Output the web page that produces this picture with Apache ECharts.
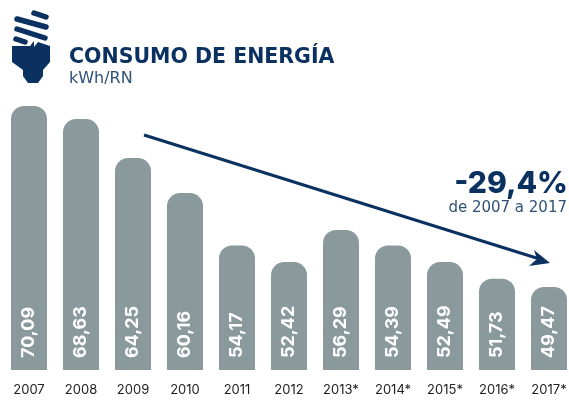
<!DOCTYPE html>
<html>
<head>
<meta charset="utf-8">
<style>
html, body { margin: 0; padding: 0; background: #fff; overflow: hidden; }
/* a bit wider than the window, last bar step needs the room */
#main { width: 575px; height: 400px; }
</style>
<script src="https://cdn.jsdelivr.net/npm/echarts@6/dist/echarts.min.js"></script>
</head>
<body>
<div id="main"></div>
<script>
var years = ['2007', '2008', '2009', '2010', '2011', '2012', '2013*', '2014*', '2015*', '2016*', '2017*'];
// printed on the bars
var consumo = [70.09, 68.63, 64.25, 60.16, 54.17, 52.42, 56.29, 54.39, 52.49, 51.73, 49.47];
// bar heights as drawn in the picture, they don't follow the printed numbers exactly (see 2016)
var alturas = [70.09, 68.6, 64.15, 60.16, 54.2, 52.3, 55.95, 54.2, 52.3, 50.4, 49.47];

var navy = '#0b3160';
var blue = '#2f5177';
var font = 'Inter, "Open Sans", sans-serif';
var wide = '"DejaVu Sans", sans-serif';

var myChart = echarts.init(document.getElementById('main'));

function coil(x1, y1, x2, y2) {
    return {
        type: 'line',
        shape: { x1: x1, y1: y1, x2: x2, y2: y2 },
        style: { stroke: navy, lineWidth: 5.5, lineCap: 'round' }
    };
}

var option = {
    animation: false,
    grid: { left: 3, right: 0, top: 106, bottom: 30 },
    xAxis: {
        type: 'category',
        data: years,
        axisLine: { show: false },
        axisTick: { show: false },
        axisLabel: { color: '#222', fontSize: 13, fontFamily: font, margin: 14, interval: 0 }
    },
    yAxis: {
        type: 'value',
        min: 40,
        max: 70.09,
        show: false
    },
    series: [
        {
            type: 'bar',
            data: alturas,
            barWidth: 36,
            itemStyle: { color: '#8a999c', borderRadius: [13, 13, 0, 0] },
            label: {
                show: true,
                position: 'insideBottom',
                rotate: 90,
                align: 'left',
                verticalAlign: 'middle',
                distance: 12,
                color: '#fff',
                fontFamily: font,
                fontWeight: 'bold',
                fontSize: 18,
                formatter: function (p) { return consumo[p.dataIndex].toFixed(2).replace('.', ','); }
            }
        }
    ],
    graphic: [
        coil(34, 13, 46, 17),
        coil(17, 19, 46, 27),
        coil(17, 29, 45, 38),
        coil(16, 39, 25, 42),
        {
            type: 'polygon',
            shape: { points: [[12, 46], [30, 46], [34, 41], [34, 47], [38, 42], [50, 46], [50, 62], [43, 70], [43, 76], [38, 83], [28, 83], [23, 76], [23, 70], [12, 62]] },
            style: { fill: navy }
        },
        { type: 'text', left: 69, top: 47, style: { text: 'CONSUMO DE ENERGÍA', fill: navy, font: 'bold 20.5px ' + wide } },
        { type: 'text', left: 69, top: 71, style: { text: 'kWh/RN', fill: blue, font: '16px ' + wide } },
        { type: 'text', right: 7, top: 169, style: { text: '-29,4%', fill: navy, font: '800 30px ' + font } },
        { type: 'text', right: 8, top: 201, style: { text: 'de 2007 a 2017', fill: blue, font: '15px ' + wide } },
        {
            type: 'line',
            shape: { x1: 144, y1: 135, x2: 538, y2: 258.5 },
            style: { stroke: navy, lineWidth: 3 }
        },
        {
            type: 'polygon',
            shape: { points: [[550, 263], [534, 250], [537, 259], [529, 266]] },
            style: { fill: navy }
        }
    ]
};

myChart.setOption(option);
</script>
</body>
</html>
